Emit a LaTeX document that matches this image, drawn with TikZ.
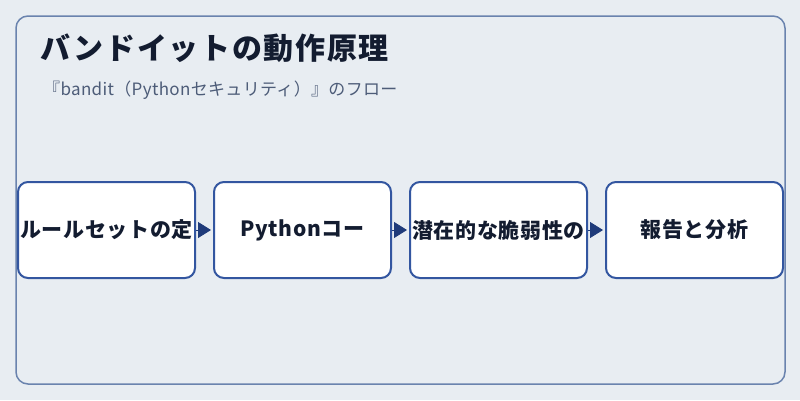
\documentclass[tikz,border=0pt]{standalone}
\usepackage{fontspec}
\setmainfont{Noto Sans CJK JP}
\usetikzlibrary{arrows.meta,positioning}

\definecolor{bgcol}{HTML}{E8EDF2}
\definecolor{framecol}{HTML}{6A83AE}
\definecolor{boxblue}{HTML}{3356A0}
\definecolor{arrowcol}{HTML}{1F3B7A}
\definecolor{titlecol}{HTML}{131C30}
\definecolor{subcol}{HTML}{4D5C78}

\begin{document}
\begin{tikzpicture}[x=1pt,y=-1pt,
    stepbox/.style={draw=boxblue, line width=2pt, fill=white, rounded corners=10pt,
        minimum width=177pt, minimum height=96pt, inner sep=0pt,
        font=\fontsize{21}{25}\selectfont\bfseries\addfontfeature{LetterSpace=3}, text=titlecol},
    flow/.style={-{Triangle[length=13pt,width=16pt]}, draw=arrowcol, line width=0.8pt,
        shorten >=2pt}]
    % background and frame
    \fill[bgcol] (0,0) rectangle (800,400);
    \draw[framecol, line width=1.5pt, rounded corners=12pt] (16,16) rectangle (785,384);

    % title and subtitle
    \node[anchor=base west, inner sep=0pt, text=titlecol,
        font=\fontsize{30}{34}\selectfont\bfseries\addfontfeature{LetterSpace=5.5}] (title) at (40.5,59) {バンドイットの動作原理};
    \node[anchor=base west, inner sep=0pt, text=subcol,
        font=\fontsize{17}{20}\selectfont\addfontfeature{LetterSpace=2}] (sub) at (43,95) {『bandit（Pythonセキュリティ）』のフロー};

    % the four steps
    \node[stepbox] (rules) at (106.5,230) {ルールセットの定};
    \node[stepbox, right=17pt of rules] (code) {Pythonコー};
    \node[stepbox, right=17pt of code] (vuln) {潜在的な脆弱性の};
    \node[stepbox, right=17pt of vuln] (report) {報告と分析};

    \draw[flow] (rules) -- (code);
    \draw[flow] (code) -- (vuln);
    \draw[flow] (vuln) -- (report);
\end{tikzpicture}
\end{document}
